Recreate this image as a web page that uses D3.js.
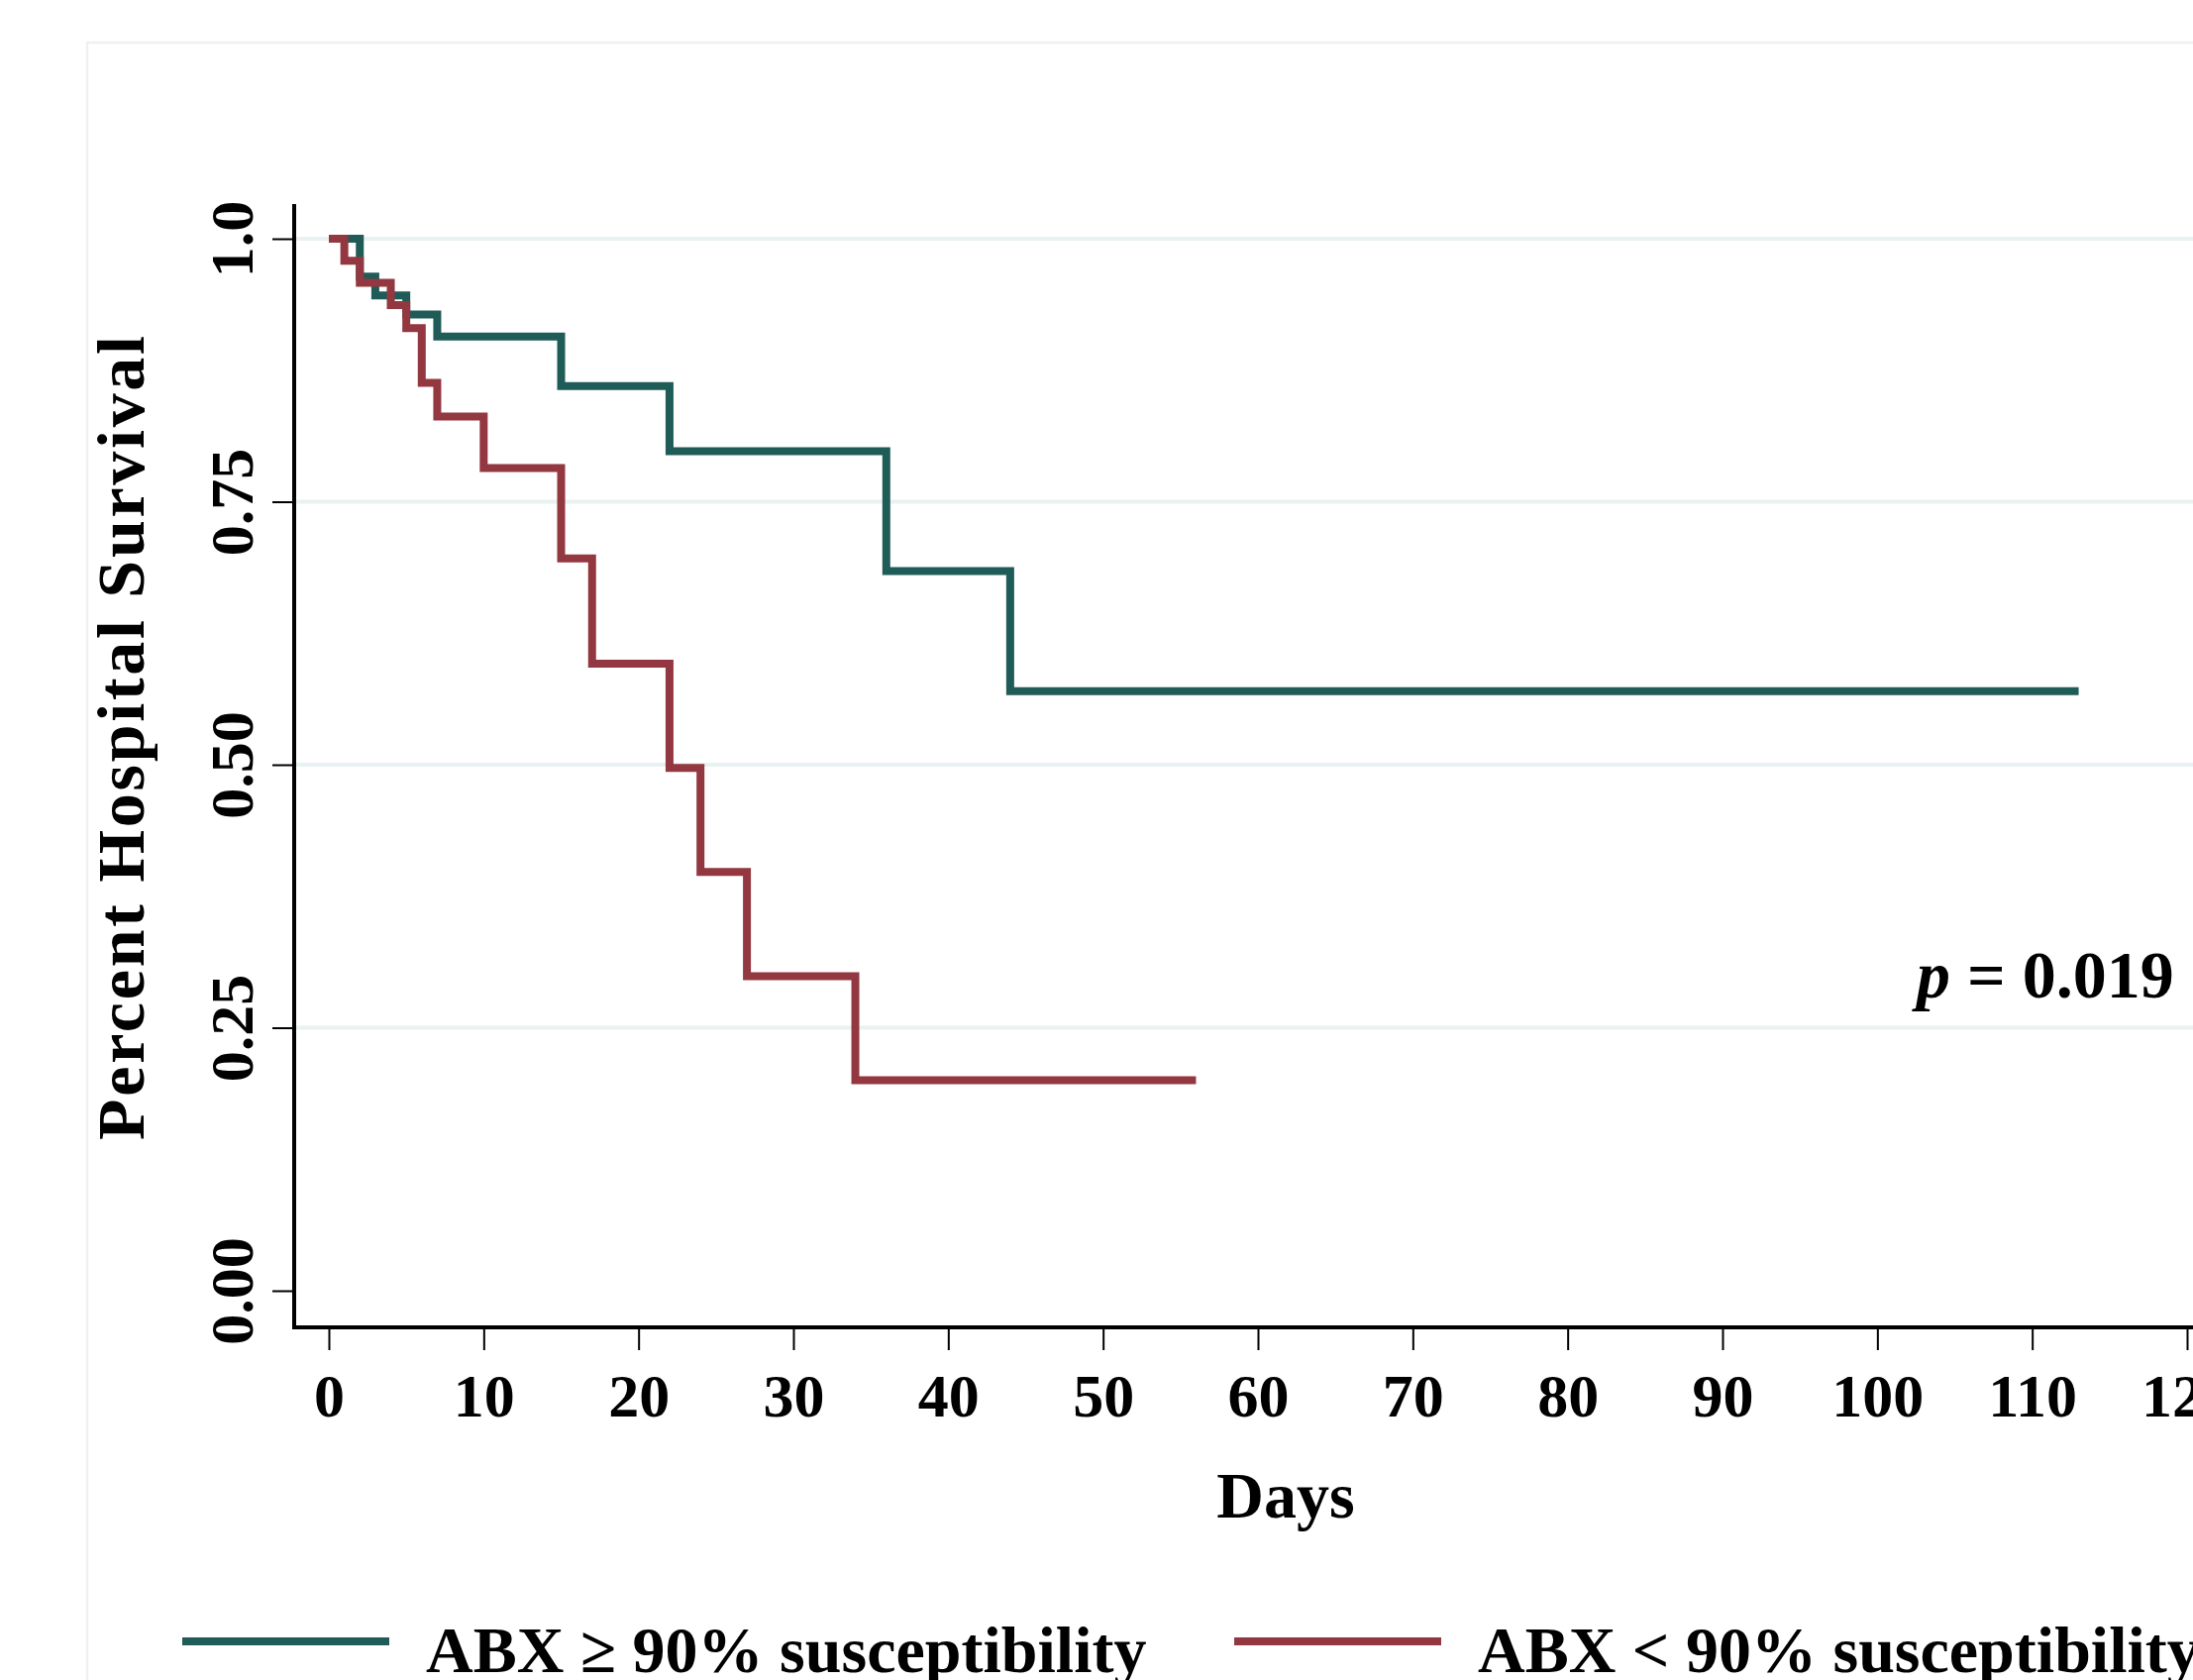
<!DOCTYPE html>
<html lang="en">

<head>
	<meta charset="utf-8">
	<title>Hospital survival</title>
	<style>
		body {
			margin: 0;
			background: #fff;
		}

		svg {
			display: block;
		}

		text {
			font-family: "Liberation Serif", "Times New Roman", serif;
			font-weight: bold;
			fill: #000;
		}
	</style>
</head>

<body>
	<svg></svg>

	<script src="https://d3js.org/d3.v7.min.js"></script>
	<script>
		(function() {

			// survival steps
			var highDays = [0, 2, 3, 5, 7, 15, 22, 36, 44, 113];
			var highSurv = [1, 0.964, 0.946, 0.928, 0.907, 0.860, 0.798, 0.684, 0.570, 0.570];

			var lowDays = [0, 1, 2, 4, 5, 6, 7, 10, 15, 17, 22, 24, 27, 34, 56];
			var lowSurv = [1, 0.979, 0.958, 0.937, 0.915, 0.863, 0.831, 0.782, 0.696, 0.596, 0.497, 0.398, 0.299, 0.200, 0.200];

			var xTicks = [0, 10, 20, 30, 40, 50, 60, 70, 80, 90, 100, 110, 120];
			var yTicks = [0, 0.25, 0.5, 0.75, 1];
			var yTickLabels = ["0.00", "0.25", "0.50", "0.75", "1.0"];

			var seriesNames = ["ABX \u2265 90% susceptibility", "ABX < 90% susceptibility"];
			var seriesColors = ["#1f5c57", "#933740"];

			var width = 2214,
				height = 1696;

			var svg = d3.select("svg")
				.attr("width", width)
				.attr("height", height);

			var x = d3.scaleLinear().domain([0, 120]).range([332, 2208]);
			var y = d3.scaleLinear().domain([0, 1]).range([1303, 241]);

			var axisX = 297,
				axisY = 1340;

			// light outer frame
			svg.append("path")
				.attr("d", "M88," + height + "V43H" + width)
				.attr("fill", "none")
				.attr("stroke", "#edf1f1")
				.attr("stroke-width", 2.5);

			// gridlines (none at 0)
			svg.append("g")
				.selectAll("line")
				.data(yTicks.filter(function(d) { return d > 0; }))
				.enter().append("line")
				.attr("x1", axisX)
				.attr("x2", width)
				.attr("y1", function(d) { return y(d); })
				.attr("y2", function(d) { return y(d); })
				.attr("stroke", "#e9f1f2")
				.attr("stroke-width", 4);

			// x axis
			var gx = svg.append("g")
				.attr("transform", "translate(0," + axisY + ")")
				.call(d3.axisBottom(x).tickValues(xTicks).tickSize(23).tickFormat(d3.format("d")));
			gx.select(".domain").remove();
			gx.selectAll(".tick line").attr("stroke", "#000").attr("stroke-width", 2);
			gx.selectAll(".tick text")
				.attr("font-size", 62)
				.attr("font-family", null)
				.attr("dy", null)
				.attr("y", 90);

			// y axis
			var gy = svg.append("g")
				.attr("transform", "translate(" + axisX + ",0)")
				.call(d3.axisLeft(y).tickValues(yTicks).tickSize(22).tickFormat(function(d, i) { return yTickLabels[i]; }));
			gy.select(".domain").remove();
			gy.selectAll(".tick line").attr("stroke", "#000").attr("stroke-width", 2);
			gy.selectAll(".tick text")
				.attr("font-size", 62)
				.attr("font-family", null)
				.attr("x", null)
				.attr("dy", null)
				.attr("text-anchor", "middle")
				.attr("transform", "translate(-42,0) rotate(-90)");

			// axis lines
			svg.append("path")
				.attr("d", "M" + axisX + ",206V" + axisY + "H" + width)
				.attr("fill", "none")
				.attr("stroke", "#000")
				.attr("stroke-width", 4);

			// survival curves
			var line = d3.line()
				.curve(d3.curveStepAfter)
				.x(function(d) { return x(d[0]); })
				.y(function(d) { return y(d[1]); });

			var curves = [d3.zip(highDays, highSurv), d3.zip(lowDays, lowSurv)];

			svg.append("g")
				.selectAll("path")
				.data(curves)
				.enter().append("path")
				.attr("d", line)
				.attr("fill", "none")
				.attr("stroke", function(d, i) { return seriesColors[i]; })
				.attr("stroke-width", 8);

			// titles
			svg.append("text")
				.attr("transform", "translate(145,745) rotate(-90)")
				.attr("text-anchor", "middle")
				.attr("font-size", 68)
				.attr("textLength", 812)
				.attr("lengthAdjust", "spacing")
				.text("Percent Hospital Survival");

			svg.append("text")
				.attr("x", 1298)
				.attr("y", 1532)
				.attr("text-anchor", "middle")
				.attr("font-size", 66)
				.text("Days");

			var p = svg.append("text")
				.attr("x", 1935)
				.attr("y", 1007)
				.attr("font-size", 68);
			p.append("tspan").attr("font-style", "italic").text("p");
			p.append("tspan").text(" = 0.019");

			// legend
			var legendX = [184, 1246];
			var legend = svg.append("g")
				.selectAll("g")
				.data(seriesNames)
				.enter().append("g")
				.attr("transform", function(d, i) { return "translate(" + legendX[i] + ",1657)"; });

			legend.append("line")
				.attr("x1", 0)
				.attr("x2", 209)
				.attr("stroke", function(d, i) { return seriesColors[i]; })
				.attr("stroke-width", 8);

			legend.append("text")
				.attr("x", 246)
				.attr("y", 31)
				.attr("font-size", 66)
				.text(function(d) { return d; });

		})();
	</script>
</body>

</html>
